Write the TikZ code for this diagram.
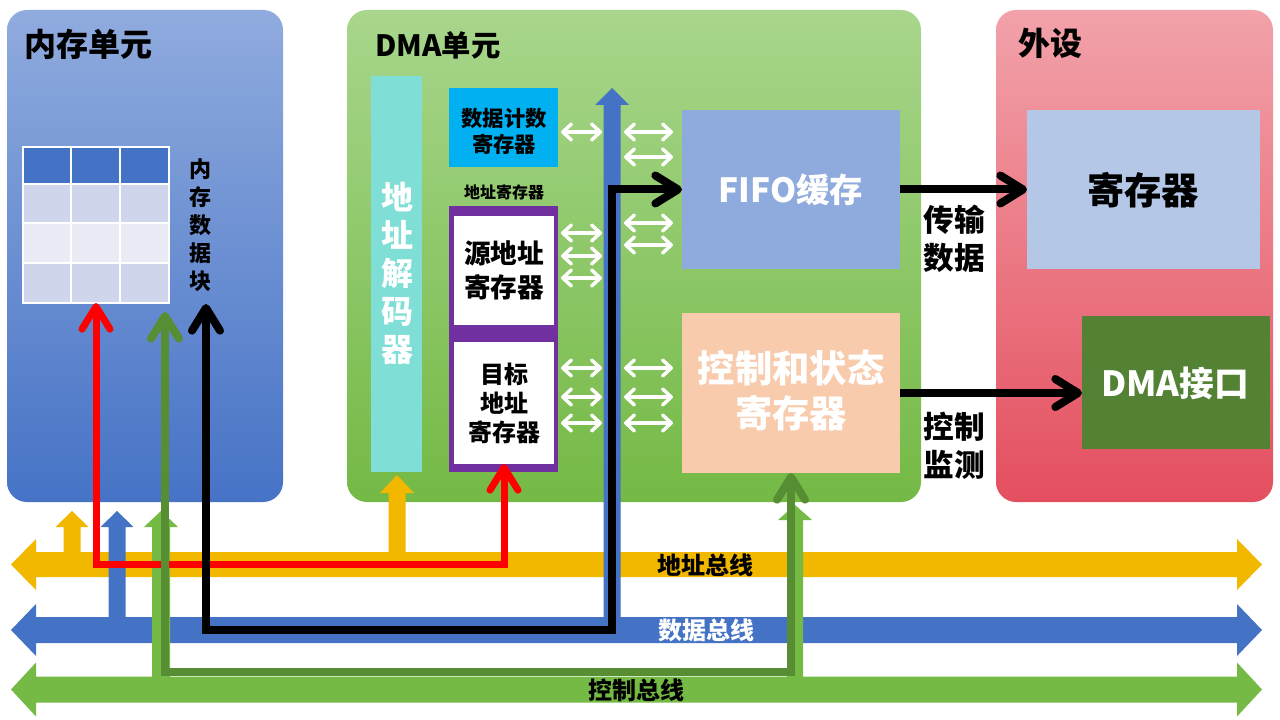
\documentclass[tikz,border=0pt]{standalone}
\usepackage{fontspec}
\setmainfont{Noto Sans CJK SC}
\usetikzlibrary{arrows.meta,fit}
\definecolor{memA}{HTML}{90ABDE}
\definecolor{memB}{HTML}{4673C6}
\definecolor{dmaA}{HTML}{A8D68C}
\definecolor{dmaB}{HTML}{74B945}
\definecolor{perA}{HTML}{F2A2AA}
\definecolor{perB}{HTML}{E44F5F}
\definecolor{hdr}{HTML}{4472C4}
\definecolor{rowA}{HTML}{CFD5EA}
\definecolor{rowB}{HTML}{E9EBF5}
\definecolor{decod}{HTML}{7FDFD7}
\definecolor{cntc}{HTML}{00B0F0}
\definecolor{purp}{HTML}{7030A0}
\definecolor{fifoc}{HTML}{8FAADC}
\definecolor{ctrlc}{HTML}{F8CBAD}
\definecolor{pregc}{HTML}{B4C7E7}
\definecolor{difc}{HTML}{548235}
\definecolor{busY}{HTML}{F2B800}
\definecolor{busB}{HTML}{4472C4}
\definecolor{busG}{HTML}{74BA44}
\definecolor{dgreen}{HTML}{588E33}
\newcommand\fatUp[7]{\fill[#1] ({#2-#6},#3) -- ({#2-#6},#5) -- ({#2-#7},#5) -- (#2,#4) -- ({#2+#7},#5) -- ({#2+#6},#5) -- ({#2+#6},#3) -- cycle;}
\newcommand\hBus[4]{\fill[#1] (11,#2) -- (36,{#2-#4}) -- (36,{#2-#3}) -- (1237,{#2-#3}) -- (1237,{#2-#4}) -- (1262,#2) -- (1237,{#2+#4}) -- (1237,{#2+#3}) -- (36,{#2+#3}) -- (36,{#2+#4}) -- cycle;}
\tikzset{
  box/.style={inner sep=0pt, outer sep=0pt, draw=none},
  container/.style={box, rounded corners=15pt, shading angle=45},
  fs/.style={font=\fontsize{#1}{#1}\selectfont\bfseries},
  ml/.style 2 args={align=center, font=\fontsize{#1}{#2}\selectfont\bfseries},
  vhead/.tip={Straight Barb[length=17pt,width=21pt,round]},
  whead/.tip={Straight Barb[length=6.5pt,width=12pt,round]},
  conn/.style={line width=6pt, vhead-vhead},
  oneway/.style={line width=6pt, -vhead},
  warrow/.style={draw=white, line width=2.6pt, whead-whead},
}
\begin{document}
\begin{tikzpicture}[x=0.75pt,y=-0.75pt]
\useasboundingbox (0,0) rectangle (1280,720);
% containers
\node[container, fit={(7,10)(283,502)}, top color=memA, bottom color=memB] (mem) {};
\node[container, fit={(347,10)(921,502)}, top color=dmaA, bottom color=dmaB] (dma) {};
\node[container, fit={(996,10)(1273,502)}, top color=perA, bottom color=perB] (per) {};
\node[fs=24] (memt) at (88,44) {内存单元};
\node[fs=22] (dmat) at (438,45) {DMA单元};
\node[fs=24] (pert) at (1050,43) {外设};
% memory table
\fill[white] (22,146) rectangle (170,304);
\foreach \ya/\yb/\c in {147/184/hdr,184/223/rowA,223/263/rowB,263/303/rowA}{
  \foreach \xa/\xb in {23/71,71/120,120/169}{
    \fill[\c] ({\xa+1},{\ya+1}) rectangle ({\xb-1},{\yb-1});
  }
}
\node[box, fit={(23,147)(169,303)}] (table) {};
\node[ml={16.5}{21}] (memdata) at (200,225) {内\\存\\数\\据\\块};
% DMA inner boxes
\node[box, fit={(371,76)(422,472)}, fill=decod] (dec) {};
\node[ml={24}{28.5}, text=white] (dect) at (397,273.5) {地\\址\\解\\码\\器};
\node[box, fit={(449,88)(558,167)}, fill=cntc] (cnt) {};
\node[ml={16}{20}] (cntt) at (504,131.5) {数据计数\\寄存器};
\node[fs=12] (addrt) at (504,192) {地址寄存器};
\node[box, fit={(449,206)(558,472)}, fill=purp] (aframe) {};
\node[box, fit={(454,216)(554,325)}, fill=white] (src) {};
\node[ml={20}{25.5}] (srct) at (504,270) {源地址\\寄存器};
\node[box, fit={(454,342)(554,464)}, fill=white] (dst) {};
\node[ml={18}{21.5}] (dstt) at (504,403.5) {目标\\地址\\寄存器};
\node[box, fit={(682,110)(900,269)}, fill=fifoc] (fifo) {};
\node[fs=25, text=white] (fifot) at (791,190) {FIFO缓存};
\node[box, fit={(682,313)(900,473)}, fill=ctrlc] (ctrl) {};
\node[ml={28}{34}, text=white] (ctrlt) at (791,390.5) {控制和状态\\寄存器};
% peripheral boxes
\node[box, fit={(1027,110)(1260,269)}, fill=pregc] (preg) {};
\node[fs=28] (pregt) at (1143,190) {寄存器};
\node[box, fit={(1082,316)(1270,449)}, fill=difc] (dif) {};
\node[fs=26, text=white] (dift) at (1175,383) {DMA接口};
\node[ml={23}{28.5}] (xfer) at (954,239) {传输\\数据};
\node[ml={23}{28.5}] (mon) at (954,446) {控制\\监测};
% white double arrows
\foreach \y in {132,233,256,278,368,397,423}{ \draw[warrow] (561,\y) -- (602,\y); }
\foreach \y in {132,157,223,245,368,397,423}{ \draw[warrow] (624,\y) -- (673,\y); }
% buses
\hBus{busY}{564.5}{12.5}{25.5}
\hBus{busB}{630}{13}{26}
\hBus{busG}{689.5}{13}{27}
\node[fs=18] (abus) at (705,565) {地址总线};
\node[fs=18, text=white] (dbus) at (706,630) {数据总线};
\node[fs=18] (cbus) at (636,690) {控制总线};
% stubs
\fatUp{busY}{72}{553}{511}{527}{8.5}{16.5}
\fatUp{busB}{117}{618}{511}{527}{8.5}{16.5}
\fatUp{busG}{161}{677}{511}{527}{9}{17}
\fatUp{busY}{397}{553}{475}{493}{8.5}{17}
\fatUp{busB}{612}{618}{88}{105}{8.5}{17}
\fatUp{busG}{795}{677}{505}{520}{8}{17}
% corner coordinates
\coordinate (r1) at (96,564);
\coordinate (r2) at (504,564);
\coordinate (k0) at (206,304);
\coordinate (k1) at (206,630);
\coordinate (k2) at (612,630);
\coordinate (k3) at (612,189.5);
\coordinate (g0) at (165,312);
\coordinate (g1) at (165,672);
\coordinate (g2) at (791,672);
% connectors
\draw[conn, red, line width=5.25pt] (table.south) -- (r1) -- (r2) -- (dst.south);
\draw[conn, black] (k0) -- (k1) -- (k2) -- (k3) -- (fifo.west);
\draw[conn, dgreen] (g0) -- (g1) -- (g2) -- (ctrl.south);
\draw[oneway, black] (fifo.east) -- (preg.west);
\draw[oneway, black] (ctrl.east) -- (ctrl.east -| dif.west);
\end{tikzpicture}
\end{document}
